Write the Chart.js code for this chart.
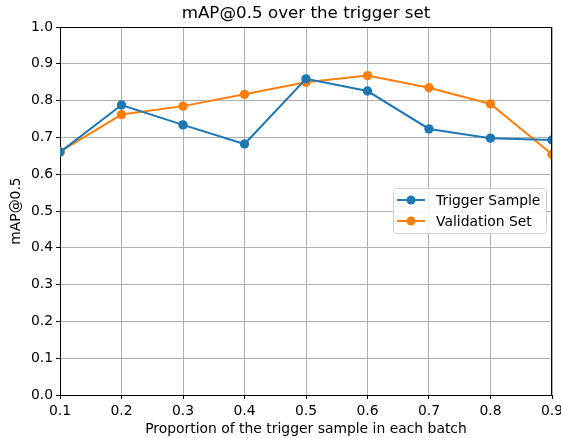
<!DOCTYPE html>
<html><head><meta charset="utf-8">
<script src="https://cdn.jsdelivr.net/npm/chart.js@4.4.0/dist/chart.umd.min.js"></script>
<style>html,body{margin:0;padding:0;background:#fff}#wrap{width:561px;height:438px}</style>
</head><body><div id="wrap"><canvas id="c" width="561" height="438"></canvas></div>
<script>
const proportions = [0.1, 0.2, 0.3, 0.4, 0.5, 0.6, 0.7, 0.8, 0.9];
const triggerSample = [0.660, 0.788, 0.734, 0.682, 0.859, 0.826, 0.723, 0.698, 0.693];
const validationSet = [0.661, 0.762, 0.785, 0.817, 0.850, 0.868, 0.835, 0.791, 0.654];
const seriesLabels = ['Trigger Sample', 'Validation Set'];
const seriesColors = ['#1f77b4', '#ff7f0e'];
const titleText = 'mAP@0.5 over the trigger set';
const xTitle = 'Proportion of the trigger sample in each batch';
const yTitle = 'mAP@0.5';

const FONT = "'DejaVu Sans', sans-serif";
const FS = 13.9;
const toPts = arr => arr.map((v, i) => ({x: proportions[i], y: v}));

const frame = {
  id: 'frame',
  afterDatasetsDraw(chart) {
    const {ctx, chartArea: a} = chart;
    ctx.save();
    ctx.strokeStyle = '#000'; ctx.lineWidth = 1;
    ctx.beginPath();
    ctx.moveTo(a.left, a.top + 0.5); ctx.lineTo(a.right, a.top + 0.5);
    ctx.moveTo(a.right - 0.5, a.top); ctx.lineTo(a.right - 0.5, a.bottom);
    ctx.stroke();
    ctx.restore();
  },
  afterDraw(chart) {
    const ctx = chart.ctx;
    const a = chart.chartArea;
    ctx.save();
    // title centred over the plot area
    ctx.fillStyle = '#000'; ctx.font = '16.7px ' + FONT;
    ctx.textAlign = 'center'; ctx.textBaseline = 'middle';
    ctx.fillText(titleText, (a.left + a.right) / 2, 14);
    // legend
    const lx = 393, ly = 188, lw = 153, lh = 45;
    ctx.fillStyle = 'rgba(255,255,255,0.85)';
    ctx.strokeStyle = '#d0d0d0'; ctx.lineWidth = 1;
    ctx.beginPath();
    ctx.roundRect(lx + 0.5, ly + 0.5, lw, lh, 3);
    ctx.fill(); ctx.stroke();
    chart.data.datasets.forEach((ds, i) => {
      const y = ly + 12 + i * 21;
      ctx.strokeStyle = ds.borderColor; ctx.lineWidth = 2;
      ctx.beginPath(); ctx.moveTo(lx + 4, y); ctx.lineTo(lx + 32, y); ctx.stroke();
      ctx.fillStyle = ds.backgroundColor;
      ctx.beginPath(); ctx.arc(lx + 18, y, 4.5, 0, Math.PI * 2); ctx.fill();
      ctx.fillStyle = '#000'; ctx.font = FS + 'px ' + FONT;
      ctx.textBaseline = 'middle'; ctx.textAlign = 'left';
      ctx.fillText(ds.label, lx + 43, y + 1);
    });
    ctx.restore();
  }
};

new Chart(document.getElementById('c'), {
  type: 'line',
  data: {
    datasets: [
      {label: seriesLabels[0], data: toPts(triggerSample), borderColor: seriesColors[0], backgroundColor: seriesColors[0],
       borderWidth: 2, pointRadius: 4.7, pointHoverRadius: 4.7, pointBorderWidth: 0, clip: 0, tension: 0},
      {label: seriesLabels[1], data: toPts(validationSet), borderColor: seriesColors[1], backgroundColor: seriesColors[1],
       borderWidth: 2, pointRadius: 4.7, pointHoverRadius: 4.7, pointBorderWidth: 0, clip: 0, tension: 0}
    ]
  },
  options: {
    responsive: false, animation: false, devicePixelRatio: 1,
    layout: {padding: {left: 0, right: 9, top: 27, bottom: 0}},
    plugins: {
      legend: {display: false},
      tooltip: {enabled: false},
      title: {display: false}
    },
    scales: {
      x: {
        type: 'linear', min: 0.1, max: 0.9,
        afterFit: s => { s.height = 43; s.paddingLeft = 0; s.paddingRight = 0; },
        ticks: {stepSize: 0.1, color: '#000', font: {family: FONT, size: FS}, padding: 4, maxRotation: 0,
                callback: v => Number(v).toFixed(1)},
        grid: {color: '#b0b0b0', lineWidth: 1, tickLength: 4, tickColor: '#000'},
        border: {display: true, color: '#000'},
        title: {display: true, text: xTitle, color: '#000', font: {family: FONT, size: FS}, padding: {top: 0, bottom: 0}}
      },
      y: {
        min: 0, max: 1,
        afterFit: s => { s.width = 60; s.paddingTop = 0; s.paddingBottom = 0; },
        ticks: {stepSize: 0.1, color: '#000', font: {family: FONT, size: FS}, padding: 3,
                callback: v => Number(v).toFixed(1)},
        grid: {color: '#b0b0b0', lineWidth: 1, tickLength: 4, tickColor: '#000'},
        border: {display: true, color: '#000'},
        title: {display: true, text: yTitle, color: '#000', font: {family: FONT, size: FS}, padding: {top: 8, bottom: 2}}
      }
    }
  },
  plugins: [frame]
});
</script></body></html>
